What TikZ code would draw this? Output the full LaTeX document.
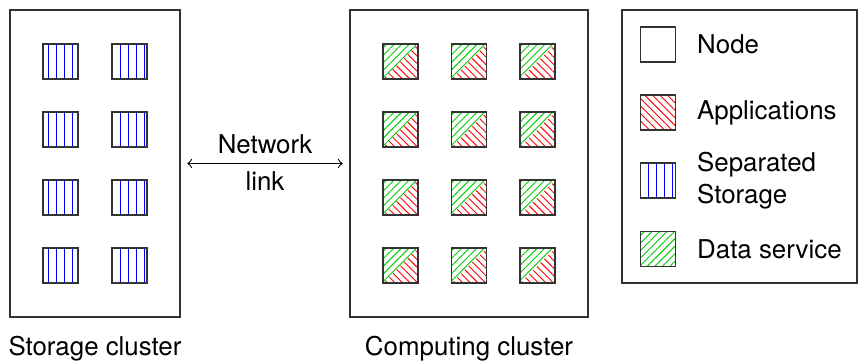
\documentclass[tikz,border=0pt]{standalone}
\usepackage{fontspec}
\setmainfont{TeX Gyre Heros}
\usetikzlibrary{patterns.meta,positioning}

\tikzset{
  cluster/.style = {draw = black!80, line width = .5pt, inner sep = 0pt},
  nodebox/.style = {draw = black!80, line width = .5pt, minimum size = 13.1pt, inner sep = 0pt},
  storehatch/.style = {pattern = {Lines[angle = 90, distance = 3pt, line width = .35pt]}, pattern color = blue},
  apphatch/.style = {pattern = {Lines[angle = -45, distance = 2pt, line width = .35pt]}, pattern color = red},
  datahatch/.style = {pattern = {Lines[angle = 45, distance = 2pt, line width = .35pt]}, pattern color = green!80!black},
  mixed/.style = {nodebox, path picture = {
      \fill[datahatch] (path picture bounding box.south west) -- (path picture bounding box.north west)
        -- (path picture bounding box.north east) -- cycle;
      \fill[apphatch] (path picture bounding box.south west) -- (path picture bounding box.south east)
        -- (path picture bounding box.north east) -- cycle;}},
  legendtext/.style = {inner sep = 0pt, align = left}
}

\begin{document}
\begin{tikzpicture}[x = .375pt, y = -.375pt, font = \fontsize{9.7}{11.8}\selectfont]
  \useasboundingbox (0, 0) rectangle (866, 363);
  % clusters
  \node[cluster, minimum width = 63.75pt, minimum height = 115.1pt] (storage) at (95, 163.5) {};
  \node[cluster, minimum width = 89.25pt, minimum height = 115.1pt] (computing) at (469, 163.5) {};
  \node[below = 3.5pt of storage] (storagelabel) {Storage cluster};
  \node[below = 3.5pt of computing] (computinglabel) {Computing cluster};
  % nodes
  \foreach \i in {0, ..., 3} {
    \foreach \j in {0, 1}
      \node[nodebox, storehatch] (s-\i-\j) at ({60.5 + 69*\j}, {61.5 + 68*\i}) {};
    \foreach \j in {0, 1, 2}
      \node[mixed] (c-\i-\j) at ({400.5 + 68.5*\j}, {61.5 + 68*\i}) {};
  }
  % network link
  \draw[<->, shorten < = 2.5pt, shorten > = 2.5pt] (storage.east) -- (computing.west)
    node[midway, above] (netlabel) {Network}
    node[midway, below, inner sep = 2.8pt] (linklabel) {link};
  % legend
  \node[cluster, minimum width = 88.1pt, minimum height = 102.4pt] (legend) at (739.5, 146.5) {};
  \node[nodebox] (lg-node) at (658, 44.5) {};
  \node[nodebox, apphatch] (lg-app) at (658, 112.5) {};
  \node[nodebox, storehatch] (lg-store) at (658, 180.5) {};
  \node[nodebox, datahatch] (lg-data) at (658, 249) {};
  \node[legendtext, right = 7.7pt of lg-node] (lg-nodetext) {Node};
  \node[legendtext, right = 7.7pt of lg-app] (lg-apptext) {Applications};
  \node[legendtext, right = 7.7pt of lg-store] (lg-storetext) {Separated\\Storage};
  \node[legendtext, right = 7.7pt of lg-data] (lg-datatext) {Data service};
\end{tikzpicture}
\end{document}
